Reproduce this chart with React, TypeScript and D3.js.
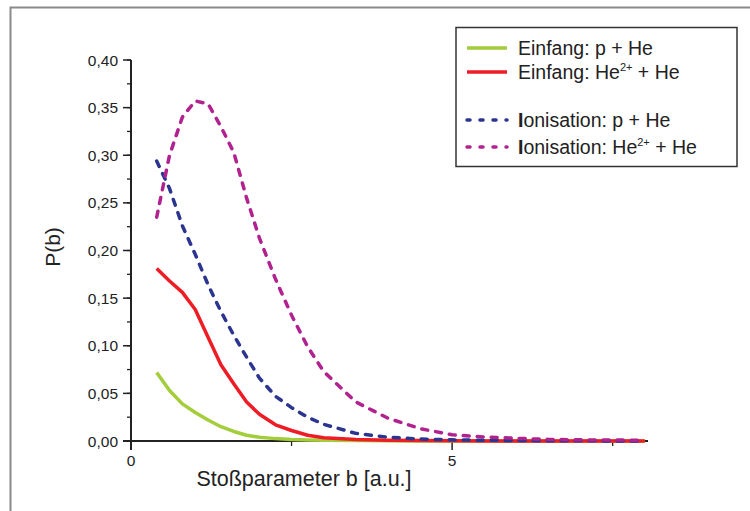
import * as d3 from "d3";
import React from "react";

// impact parameter b [a.u.]
const bValues = [0.4, 0.6, 0.8, 1.0, 1.2, 1.4, 1.6, 1.8, 2.0, 2.25, 2.5, 2.75, 3.0, 3.5, 4.0, 4.5, 5.0, 5.5, 6.0, 6.5, 7.0, 7.5, 8.0];

const captureP = [0.072, 0.053, 0.039, 0.03, 0.022, 0.015, 0.01, 0.006, 0.004, 0.0025, 0.0015, 0.001, 0.0007, 0.0004, 0.0002, 0.0001, 0, 0, 0, 0, 0, 0, 0];
const captureHe = [0.181, 0.168, 0.156, 0.138, 0.109, 0.08, 0.06, 0.041, 0.028, 0.017, 0.011, 0.006, 0.0035, 0.0015, 0.0008, 0.0004, 0.0002, 0.0001, 0, 0, 0, 0, 0];
const ionP = [0.294, 0.265, 0.226, 0.196, 0.164, 0.136, 0.111, 0.088, 0.066, 0.047, 0.035, 0.025, 0.0175, 0.008, 0.004, 0.002, 0.0012, 0.0008, 0.0005, 0.0003, 0.0002, 0.0001, 0.0001];
const ionHe = [0.235, 0.3, 0.34, 0.357, 0.354, 0.33, 0.303, 0.255, 0.213, 0.17, 0.132, 0.099, 0.073, 0.041, 0.024, 0.013, 0.0065, 0.0042, 0.0028, 0.0017, 0.0012, 0.001, 0.0008];

const yTicks = [0, 0.05, 0.1, 0.15, 0.2, 0.25, 0.3, 0.35, 0.4];
const xTicks = [0, 5];

const series = [
  { key: "capP", values: captureP, color: "#a3cd3b", dashed: false, label: "Einfang: p + He", sup: false },
  { key: "capHe", values: captureHe, color: "#ee1d25", dashed: false, label: "Einfang: He", sup: true },
  { key: "ionP", values: ionP, color: "#2b3590", dashed: true, label: "onisation: p + He", sup: false },
  { key: "ionHe", values: ionHe, color: "#b1228f", dashed: true, label: "onisation: He", sup: true },
];

const font = "'Liberation Sans', Arial, sans-serif";

const App: React.FC = () => {
  const x = d3.scaleLinear().domain([0, 8.05]).range([131, 648]);
  const y = d3.scaleLinear().domain([0, 0.4]).range([441, 60]);

  const line = d3
    .line<[number, number]>()
    .x((d) => x(d[0]))
    .y((d) => y(d[1]));

  const minorY = d3.range(0, 0.4001, 0.025);
  const minorX = [2.5, 7.5];

  const legendRows = [48, 72, 120, 147];

  return (
    <svg
      width={750}
      height={511}
      style={{ position: "absolute", left: 0, top: 0, background: "#fff" }}
      fontFamily={font}
    >
      {/* outer frame */}
      <path d="M10.5,511 V7.5 H750" fill="none" stroke="#8a8a8a" strokeWidth={2} />

      {/* y axis */}
      <line x1={x(0)} x2={x(0)} y1={y(0.4)} y2={y(0) + 9} stroke="#222" strokeWidth={2} />
      {minorY.map((v) => (
        <line key={"my" + v} x1={x(0) - 4} x2={x(0)} y1={y(v)} y2={y(v)} stroke="#222" strokeWidth={1.3} />
      ))}
      {yTicks.map((v) => (
        <g key={"y" + v}>
          <line x1={x(0) - 8} x2={x(0)} y1={y(v)} y2={y(v)} stroke="#222" strokeWidth={1.5} />
          <text x={x(0) - 13} y={y(v)} dy="0.36em" textAnchor="end" fontSize={15.5} fill="#222">
            {d3.format(".2f")(v).replace(".", ",")}
          </text>
        </g>
      ))}

      {/* x axis */}
      <line x1={x(0) - 8} x2={x(8.05)} y1={y(0)} y2={y(0)} stroke="#222" strokeWidth={2} />
      {minorX.map((v) => (
        <line key={"mx" + v} x1={x(v)} x2={x(v)} y1={y(0)} y2={y(0) + 5} stroke="#222" strokeWidth={1.3} />
      ))}
      {xTicks.map((v) => (
        <g key={"x" + v}>
          <line x1={x(v)} x2={x(v)} y1={y(0)} y2={y(0) + 9} stroke="#222" strokeWidth={1.5} />
          <text x={x(v)} y={466} textAnchor="middle" fontSize={15.5} fill="#222">
            {v}
          </text>
        </g>
      ))}

      {/* axis titles */}
      <text x={304} y={486} textAnchor="middle" fontSize={21.5} fill="#222">
        Stoßparameter b [a.u.]
      </text>
      <text transform="translate(60,247) rotate(-90)" textAnchor="middle" fontSize={21} fill="#222">
        P(b)
      </text>

      {/* curves */}
      {series.map((s) => (
        <path
          key={s.key}
          d={line(bValues.map((b, i) => [b, s.values[i]] as [number, number])) || ""}
          fill="none"
          stroke={s.color}
          strokeWidth={3.5}
          strokeLinejoin="round"
          strokeLinecap={s.dashed ? "round" : "butt"}
          strokeDasharray={s.dashed ? "6,8" : undefined}
        />
      ))}

      {/* legend */}
      <rect x={456} y={27.5} width={281} height={139} fill="#fff" stroke="#333" strokeWidth={1.5} />
      {series.map((s, i) => (
        <g key={"lg" + s.key}>
          <line
            x1={467}
            x2={507}
            y1={legendRows[i]}
            y2={legendRows[i]}
            stroke={s.color}
            strokeWidth={3.5}
            strokeLinecap={s.dashed ? "round" : "butt"}
            strokeDasharray={s.dashed ? "3,10" : undefined}
          />
          <text x={518} y={legendRows[i] + 6.5} fontSize={19.5} fill="#222">
            {s.dashed && <tspan fontWeight="bold">I</tspan>}
            {s.label}
            {s.sup && (
              <>
                <tspan fontSize={11} dy={-8}>2+</tspan>
                <tspan dy={8}> + He</tspan>
              </>
            )}
          </text>
        </g>
      ))}
    </svg>
  );
};

export default App;
